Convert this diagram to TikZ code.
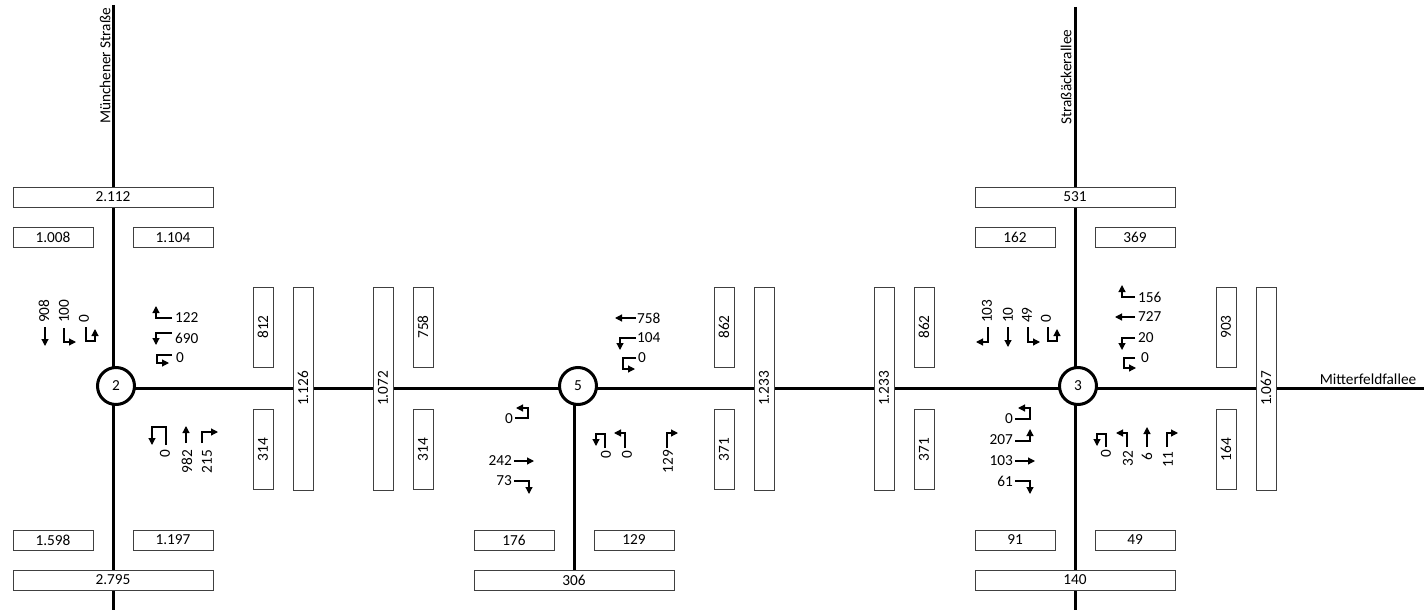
\documentclass[tikz,border=0pt]{standalone}
\usepackage{fontspec}
\setmainfont{Carlito}
\usetikzlibrary{arrows.meta}
\newcommand{\lblfont}{\fontsize{15.3}{18}\selectfont}
\begin{document}
\begin{tikzpicture}[x=1pt,y=-1pt,
  lbl/.style={inner sep=0pt,font=\lblfont},
  road/.style={line width=3pt},
  junction/.style={circle,draw,line width=3pt,fill=white,minimum size=37pt,inner sep=0pt,font=\lblfont},
  cbox/.style={draw=black!75,line width=1pt,fill=white,inner sep=0pt,font=\lblfont},
  hbox/.style={cbox,minimum width=80pt,minimum height=20pt},
  wbox/.style={cbox,minimum width=200pt,minimum height=20pt},
  vsbox/.style={cbox,minimum width=20pt,minimum height=80pt},
  vlbox/.style={cbox,minimum width=20pt,minimum height=203pt},
  ta/.style={line width=1.2pt,-{Triangle[length=7pt,width=7pt]}},
  up/.style={lbl,rotate=90,anchor=west},
  dn/.style={lbl,rotate=90,anchor=east},
]
\useasboundingbox (0,0) rectangle (1424,610);

% road coordinates
\coordinate (L1) at (113,5);
\coordinate (L2) at (113,610);
\coordinate (H1) at (116,388);
\coordinate (H2) at (1424,388);
\coordinate (M1) at (574,388);
\coordinate (M2) at (574,575);
\coordinate (R1) at (1075,7);
\coordinate (R2) at (1075,610);
\draw[road] (L1) -- (L2);
\draw[road] (H1) -- (H2);
\draw[road] (M1) -- (M2);
\draw[road] (R1) -- (R2);

% street names
\node[lbl,rotate=90] (sMuen) at (105,66) {Münchener Straße};
\node[lbl,rotate=90] (sStr) at (1066,77) {Straßäckerallee};
\node[lbl] (sMit) at (1368,379) {Mitterfeldfallee};

% horizontal boxes
\node[wbox] (b2112) at (113,197) {2.112};
\node[hbox] (b1008) at (53,237.5) {1.008};
\node[hbox] (b1104) at (173,237.5) {1.104};
\node[hbox] (b1598) at (53,540) {1.598};
\node[hbox] (b1197) at (173,540) {1.197};
\node[wbox] (b2795) at (113,580) {2.795};
\node[hbox] (b176) at (514,540) {176};
\node[hbox] (b129) at (634,540) {129};
\node[wbox] (b306) at (574,580) {306};
\node[wbox] (b531) at (1075,197) {531};
\node[hbox] (b162) at (1015,237.5) {162};
\node[hbox] (b369) at (1135,237.5) {369};
\node[hbox] (b91) at (1015,540) {91};
\node[hbox] (b49) at (1135,540) {49};
\node[wbox] (b140) at (1075,580) {140};

% vertical boxes
\node[vsbox] (v812) at (263,327) {\rotatebox{90}{812}};
\node[vsbox] (v758) at (423,327) {\rotatebox{90}{758}};
\node[vsbox] (v862a) at (724,327) {\rotatebox{90}{862}};
\node[vsbox] (v862b) at (924,327) {\rotatebox{90}{862}};
\node[vsbox] (v903) at (1226,327) {\rotatebox{90}{903}};
\node[vsbox] (v314a) at (263,449.5) {\rotatebox{90}{314}};
\node[vsbox] (v314b) at (423,449.5) {\rotatebox{90}{314}};
\node[vsbox] (v371a) at (724,449.5) {\rotatebox{90}{371}};
\node[vsbox] (v371b) at (924,449.5) {\rotatebox{90}{371}};
\node[vsbox] (v164) at (1226,449.5) {\rotatebox{90}{164}};
\node[vlbox] (v1126) at (303,388.5) {\rotatebox{90}{1.126}};
\node[vlbox] (v1072) at (383,388.5) {\rotatebox{90}{1.072}};
\node[vlbox] (v1233a) at (764,388.5) {\rotatebox{90}{1.233}};
\node[vlbox] (v1233b) at (884,388.5) {\rotatebox{90}{1.233}};
\node[vlbox] (v1067) at (1266,388.5) {\rotatebox{90}{1.067}};

% junctions
\node[junction] (J2) at (116,386) {2};
\node[junction] (J5) at (578,386) {5};
\node[junction] (J3) at (1078,386) {3};

% ---- junction 2 ----
\node[up] (t908) at (44,323) {908};
\draw[ta] (45,327) -- (45,346);
\node[up] (t100) at (64,323) {100};
\draw[ta] (64,328) -- (64,342) -- (76,342);
\node[up] (t0a) at (84,323) {0};
\draw[ta] (86,327) -- (86,341) -- (95,341) -- (95,329);

\node[lbl,anchor=west] (t122) at (175,318) {122};
\draw[ta] (172,318) -- (156,318) -- (156,306);
\node[lbl,anchor=west] (t690) at (175,338) {690};
\draw[ta] (172,333) -- (156,333) -- (156,345);
\node[lbl,anchor=west] (t0b) at (176,358) {0};
\draw[ta] (172,355) -- (157,355) -- (157,363) -- (169,363);

\node[dn] (t0c) at (165,450) {0};
\draw[ta] (166,445) -- (166,427) -- (152,427) -- (152,445);
\node[dn] (t982) at (187,450) {982};
\draw[ta] (186,443) -- (186,426);
\node[dn] (t215) at (207,450) {215};
\draw[ta] (202,443) -- (202,432) -- (218,432);

% ---- junction 5 ----
\node[lbl,anchor=west] (t758) at (637,318) {758};
\draw[ta] (636,318) -- (615,318);
\node[lbl,anchor=west] (t104) at (637,338) {104};
\draw[ta] (636,338) -- (620,338) -- (620,350);
\node[lbl,anchor=west] (t0d) at (638,358) {0};
\draw[ta] (636,358) -- (623,358) -- (623,369) -- (635,369);

\node[lbl,anchor=east] (t0e) at (513,419) {0};
\draw[ta] (515,418) -- (528,418) -- (528,408) -- (516,408);
\node[lbl,anchor=east] (t242) at (512,461) {242};
\draw[ta] (514,461) -- (534,461);
\node[lbl,anchor=east] (t73) at (512,481) {73};
\draw[ta] (514,481) -- (529,481) -- (529,494);

\node[dn] (t0f) at (606,451) {0};
\draw[ta] (605,448) -- (605,434) -- (596,434) -- (596,446);
\node[dn] (t0g) at (627,451) {0};
\draw[ta] (625,448) -- (625,433) -- (614,433);
\node[dn] (t129) at (668,450) {129};
\draw[ta] (667,448) -- (667,433) -- (678,433);

% ---- junction 3 ----
\node[up] (t103a) at (987,323) {103};
\draw[ta] (988,327) -- (988,342) -- (976,342);
\node[up] (t10) at (1008,323) {10};
\draw[ta] (1008,327) -- (1008,347);
\node[up] (t49) at (1027,323) {49};
\draw[ta] (1028,327) -- (1028,342) -- (1040,342);
\node[up] (t0h) at (1046,323) {0};
\draw[ta] (1048,327) -- (1048,341) -- (1057,341) -- (1057,329);

\node[lbl,anchor=west] (t156) at (1138,297) {156};
\draw[ta] (1135,297) -- (1122,297) -- (1122,285);
\node[lbl,anchor=west] (t727) at (1138,317) {727};
\draw[ta] (1135,317) -- (1115,317);
\node[lbl,anchor=west] (t20) at (1138,338) {20};
\draw[ta] (1135,338) -- (1122,338) -- (1122,350);
\node[lbl,anchor=west] (t0i) at (1141,358) {0};
\draw[ta] (1135,358) -- (1124,358) -- (1124,368) -- (1136,368);

\node[lbl,anchor=east] (t0j) at (1013,419) {0};
\draw[ta] (1015,419) -- (1030,419) -- (1030,408) -- (1018,408);
\node[lbl,anchor=east] (t207) at (1013,440) {207};
\draw[ta] (1015,441) -- (1030,441) -- (1030,429);
\node[lbl,anchor=east] (t103b) at (1013,461) {103};
\draw[ta] (1015,461) -- (1035,461);
\node[lbl,anchor=east] (t61) at (1013,481) {61};
\draw[ta] (1015,481) -- (1030,481) -- (1030,494);

\node[dn] (t0k) at (1106,450) {0};
\draw[ta] (1106,447) -- (1106,434) -- (1097,434) -- (1097,446);
\node[dn] (t32) at (1128,451) {32};
\draw[ta] (1127,447) -- (1127,433) -- (1116,433);
\node[dn] (t6) at (1147,453) {6};
\draw[ta] (1147,447) -- (1147,427);
\node[dn] (t11) at (1168,452) {11};
\draw[ta] (1167,447) -- (1167,433) -- (1178,433);
\end{tikzpicture}
\end{document}
